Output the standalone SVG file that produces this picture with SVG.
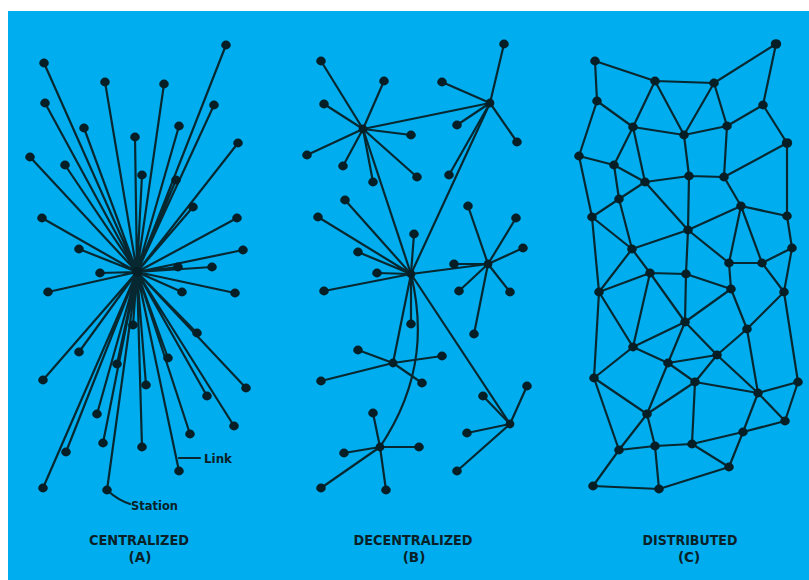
<svg xmlns="http://www.w3.org/2000/svg" width="809" height="580" viewBox="0 0 809 580">
<style>
.bg{fill:#00aeef}
.ln{stroke:#072830;stroke-width:2.2;fill:none;stroke-linecap:round}
.nd{fill:#061f26}
.hub{fill:#061f26}
.lbl{font-family:"DejaVu Sans","Liberation Sans",sans-serif;font-size:13.5px;font-weight:bold;fill:#0a2128;text-anchor:middle}
.sm{font-family:"DejaVu Sans","Liberation Sans",sans-serif;font-size:12.5px;font-weight:bold;fill:#0a2128}
</style>
<rect width="809" height="580" fill="#ffffff"/>
<rect class="bg" x="8" y="11" width="801" height="569"/>
<g id="connectors">
<g id="links-a">
<path class="ln" d="M137,272L44,63M137,272L226,45M137,272L105,82M137,272L164,84M137,272L45,103M137,272L214,105M137,272L84,128M137,272L179,126M137,272L135,137M137,272L238,143M137,272L30,157M137,272L65,165M137,272L142,175M137,272L176,180M137,272L193,207M137,272L42,218M137,272L237,218M137,272L79,249M137,272L243,250M137,272L100,273M137,272L178,267M137,272L212,267M137,272L48,292M137,272L182,292M137,272L235,293M137,272L133,325M137,272L197,333M137,272L79,352M137,272L117,364M137,272L168,358M137,272L43,380M137,272L146,385M137,272L246,388M137,272L207,396M137,272L97,414M137,272L234,426M137,272L190,434M137,272L103,443M137,272L142,447M137,272L66,452M137,272L179,471M137,272L43,488M137,272L107,490"/>
<path class="ln" d="M200,458L179,458M108,491Q118,500 130,504" stroke-width="1.6"/>
</g>
<g id="links-b">
<path class="ln" d="M363,129L321,61M363,129L384,81M363,129L324,104M363,129L307,155M363,129L343,166M363,129L373,182M363,129L411,135M363,129L417,177"/>
<path class="ln" d="M490,103L504,44M490,103L442,82M490,103L457,125M490,103L517,142M490,103L449,175"/>
<path class="ln" d="M411,274L358,252M411,274L318,217M411,274L345,200M411,274L414,234M411,274L377,273M411,274L324,291M411,274L411,324"/>
<path class="ln" d="M488,264L454,264M488,264L459,291M488,264L510,292M488,264L474,334M488,264L468,206M488,264L516,218M488,264L523,248"/>
<path class="ln" d="M393,363L358,350M393,363L442,356M393,363L321,381M393,363L422,383"/>
<path class="ln" d="M380,447L373,413M380,447L419,447M380,447L344,453M380,447L321,488M380,447L386,490"/>
<path class="ln" d="M510,424L483,396M510,424L527,386M510,424L467,433M510,424L457,471"/>
<path class="ln" d="M363,129L490,103M363,129L411,274M490,103L411,274M411,274L488,264M411,274L393,363M411,274L510,424M411,274C422,320 425,380 380,447"/>
</g>
<g id="links-c">
<path class="ln" d="M595,61L655,81M595,61L597,101M655,81L714,83M714,83L776,44M776,44L763,105M597,101L633,127M655,81L633,127M655,81L684,135M714,83L684,135M714,83L727,126M763,105L727,126M763,105L787,143M633,127L684,135M684,135L727,126M633,127L614,165M597,101L579,156M579,156L614,165M684,135L689,176M727,126L724,177M614,165L645,182M633,127L645,182M645,182L689,176M689,176L724,177M724,177L787,143M724,177L741,206M787,143L787,216M579,156L592,217M614,165L619,199M645,182L619,199M619,199L592,217M619,199L632,249M592,217L632,249M645,182L688,230M689,176L688,230M741,206L688,230M741,206L787,216M787,216L792,248M632,249L688,230M741,206L729,263M741,206L762,263M688,230L729,263M762,263L792,248M592,217L599,292M632,249L599,292M632,249L650,273M688,230L686,274"/>
<path class="ln" d="M599,292L650,273M650,273L686,274M686,274L731,289M729,263L731,289M729,263L762,263M762,263L784,292M784,292L792,248M599,292L594,378M599,292L633,347M650,273L633,347M650,273L685,322M686,274L685,322M685,322L731,289M731,289L747,329M784,292L747,329M784,292L798,382M633,347L685,322M633,347L668,363M633,347L594,378M685,322L668,363M685,322L717,355M747,329L717,355M747,329L758,393M668,363L717,355M668,363L695,382M717,355L695,382M717,355L758,393M695,382L758,393M798,382L758,393M798,382L785,421M758,393L785,421M758,393L743,432M594,378L647,414M594,378L619,450M668,363L647,414M695,382L647,414M695,382L692,444M647,414L619,450M647,414L655,446M619,450L655,446M655,446L692,444M692,444L743,432M743,432L785,421M692,444L729,467M743,432L729,467M619,450L593,486M593,486L659,489M655,446L659,489M659,489L729,467"/>
</g>
</g>
<g id="hubs">
<g id="a-hub"><circle class="hub" cx="137" cy="272" r="5"/></g>
<g id="b-hub1"><circle class="hub" cx="363" cy="129" r="4.4"/></g>
<g id="b-hub2"><circle class="hub" cx="490" cy="103" r="4.4"/></g>
<g id="b-hub3"><circle class="hub" cx="411" cy="274" r="4.4"/></g>
<g id="b-hub4"><circle class="hub" cx="488" cy="264" r="4.4"/></g>
<g id="b-hub5"><circle class="hub" cx="393" cy="363" r="4.4"/></g>
<g id="b-hub6"><circle class="hub" cx="380" cy="447" r="4.4"/></g>
<g id="b-hub7"><circle class="hub" cx="510" cy="424" r="4.4"/></g>
</g>
<g id="stations-a">
<g id="a1"><ellipse class="nd" cx="44" cy="63" rx="4.8" ry="4.4"/></g>
<g id="a2"><ellipse class="nd" cx="226" cy="45" rx="4.8" ry="4.4"/></g>
<g id="a3"><ellipse class="nd" cx="105" cy="82" rx="4.8" ry="4.4"/></g>
<g id="a4"><ellipse class="nd" cx="164" cy="84" rx="4.8" ry="4.4"/></g>
<g id="a5"><ellipse class="nd" cx="45" cy="103" rx="4.8" ry="4.4"/></g>
<g id="a6"><ellipse class="nd" cx="214" cy="105" rx="4.8" ry="4.4"/></g>
<g id="a7"><ellipse class="nd" cx="84" cy="128" rx="4.8" ry="4.4"/></g>
<g id="a8"><ellipse class="nd" cx="179" cy="126" rx="4.8" ry="4.4"/></g>
<g id="a9"><ellipse class="nd" cx="135" cy="137" rx="4.8" ry="4.4"/></g>
<g id="a10"><ellipse class="nd" cx="238" cy="143" rx="4.8" ry="4.4"/></g>
<g id="a11"><ellipse class="nd" cx="30" cy="157" rx="4.8" ry="4.4"/></g>
<g id="a12"><ellipse class="nd" cx="65" cy="165" rx="4.8" ry="4.4"/></g>
<g id="a13"><ellipse class="nd" cx="142" cy="175" rx="4.8" ry="4.4"/></g>
<g id="a14"><ellipse class="nd" cx="176" cy="180" rx="4.8" ry="4.4"/></g>
<g id="a15"><ellipse class="nd" cx="193" cy="207" rx="4.8" ry="4.4"/></g>
<g id="a16"><ellipse class="nd" cx="42" cy="218" rx="4.8" ry="4.4"/></g>
<g id="a17"><ellipse class="nd" cx="237" cy="218" rx="4.8" ry="4.4"/></g>
<g id="a18"><ellipse class="nd" cx="79" cy="249" rx="4.8" ry="4.4"/></g>
<g id="a19"><ellipse class="nd" cx="243" cy="250" rx="4.8" ry="4.4"/></g>
<g id="a20"><ellipse class="nd" cx="100" cy="273" rx="4.8" ry="4.4"/></g>
<g id="a21"><ellipse class="nd" cx="178" cy="267" rx="4.8" ry="4.4"/></g>
<g id="a22"><ellipse class="nd" cx="212" cy="267" rx="4.8" ry="4.4"/></g>
<g id="a23"><ellipse class="nd" cx="48" cy="292" rx="4.8" ry="4.4"/></g>
<g id="a24"><ellipse class="nd" cx="182" cy="292" rx="4.8" ry="4.4"/></g>
<g id="a25"><ellipse class="nd" cx="235" cy="293" rx="4.8" ry="4.4"/></g>
<g id="a26"><ellipse class="nd" cx="133" cy="325" rx="4.8" ry="4.4"/></g>
<g id="a27"><ellipse class="nd" cx="197" cy="333" rx="4.8" ry="4.4"/></g>
<g id="a28"><ellipse class="nd" cx="79" cy="352" rx="4.8" ry="4.4"/></g>
<g id="a29"><ellipse class="nd" cx="117" cy="364" rx="4.8" ry="4.4"/></g>
<g id="a30"><ellipse class="nd" cx="168" cy="358" rx="4.8" ry="4.4"/></g>
<g id="a31"><ellipse class="nd" cx="43" cy="380" rx="4.8" ry="4.4"/></g>
<g id="a32"><ellipse class="nd" cx="146" cy="385" rx="4.8" ry="4.4"/></g>
<g id="a33"><ellipse class="nd" cx="246" cy="388" rx="4.8" ry="4.4"/></g>
<g id="a34"><ellipse class="nd" cx="207" cy="396" rx="4.8" ry="4.4"/></g>
<g id="a35"><ellipse class="nd" cx="97" cy="414" rx="4.8" ry="4.4"/></g>
<g id="a36"><ellipse class="nd" cx="234" cy="426" rx="4.8" ry="4.4"/></g>
<g id="a37"><ellipse class="nd" cx="190" cy="434" rx="4.8" ry="4.4"/></g>
<g id="a38"><ellipse class="nd" cx="103" cy="443" rx="4.8" ry="4.4"/></g>
<g id="a39"><ellipse class="nd" cx="142" cy="447" rx="4.8" ry="4.4"/></g>
<g id="a40"><ellipse class="nd" cx="66" cy="452" rx="4.8" ry="4.4"/></g>
<g id="a41"><ellipse class="nd" cx="179" cy="471" rx="4.8" ry="4.4"/></g>
<g id="a42"><ellipse class="nd" cx="43" cy="488" rx="4.8" ry="4.4"/></g>
<g id="a43"><ellipse class="nd" cx="107" cy="490" rx="4.8" ry="4.4"/></g>
</g>
<g id="stations-b">
<g id="b1"><ellipse class="nd" cx="321" cy="61" rx="4.8" ry="4.4"/></g>
<g id="b2"><ellipse class="nd" cx="384" cy="81" rx="4.8" ry="4.4"/></g>
<g id="b3"><ellipse class="nd" cx="324" cy="104" rx="4.8" ry="4.4"/></g>
<g id="b4"><ellipse class="nd" cx="307" cy="155" rx="4.8" ry="4.4"/></g>
<g id="b5"><ellipse class="nd" cx="343" cy="166" rx="4.8" ry="4.4"/></g>
<g id="b6"><ellipse class="nd" cx="373" cy="182" rx="4.8" ry="4.4"/></g>
<g id="b7"><ellipse class="nd" cx="411" cy="135" rx="4.8" ry="4.4"/></g>
<g id="b8"><ellipse class="nd" cx="417" cy="177" rx="4.8" ry="4.4"/></g>
<g id="b9"><ellipse class="nd" cx="504" cy="44" rx="4.8" ry="4.4"/></g>
<g id="b10"><ellipse class="nd" cx="442" cy="82" rx="4.8" ry="4.4"/></g>
<g id="b11"><ellipse class="nd" cx="457" cy="125" rx="4.8" ry="4.4"/></g>
<g id="b12"><ellipse class="nd" cx="517" cy="142" rx="4.8" ry="4.4"/></g>
<g id="b13"><ellipse class="nd" cx="449" cy="175" rx="4.8" ry="4.4"/></g>
<g id="b14"><ellipse class="nd" cx="358" cy="252" rx="4.8" ry="4.4"/></g>
<g id="b15"><ellipse class="nd" cx="318" cy="217" rx="4.8" ry="4.4"/></g>
<g id="b16"><ellipse class="nd" cx="345" cy="200" rx="4.8" ry="4.4"/></g>
<g id="b17"><ellipse class="nd" cx="414" cy="234" rx="4.8" ry="4.4"/></g>
<g id="b18"><ellipse class="nd" cx="377" cy="273" rx="4.8" ry="4.4"/></g>
<g id="b19"><ellipse class="nd" cx="324" cy="291" rx="4.8" ry="4.4"/></g>
<g id="b20"><ellipse class="nd" cx="411" cy="324" rx="4.8" ry="4.4"/></g>
<g id="b21"><ellipse class="nd" cx="454" cy="264" rx="4.8" ry="4.4"/></g>
<g id="b22"><ellipse class="nd" cx="459" cy="291" rx="4.8" ry="4.4"/></g>
<g id="b23"><ellipse class="nd" cx="510" cy="292" rx="4.8" ry="4.4"/></g>
<g id="b24"><ellipse class="nd" cx="474" cy="334" rx="4.8" ry="4.4"/></g>
<g id="b25"><ellipse class="nd" cx="468" cy="206" rx="4.8" ry="4.4"/></g>
<g id="b26"><ellipse class="nd" cx="516" cy="218" rx="4.8" ry="4.4"/></g>
<g id="b27"><ellipse class="nd" cx="523" cy="248" rx="4.8" ry="4.4"/></g>
<g id="b28"><ellipse class="nd" cx="358" cy="350" rx="4.8" ry="4.4"/></g>
<g id="b29"><ellipse class="nd" cx="442" cy="356" rx="4.8" ry="4.4"/></g>
<g id="b30"><ellipse class="nd" cx="321" cy="381" rx="4.8" ry="4.4"/></g>
<g id="b31"><ellipse class="nd" cx="422" cy="383" rx="4.8" ry="4.4"/></g>
<g id="b32"><ellipse class="nd" cx="373" cy="413" rx="4.8" ry="4.4"/></g>
<g id="b33"><ellipse class="nd" cx="419" cy="447" rx="4.8" ry="4.4"/></g>
<g id="b34"><ellipse class="nd" cx="344" cy="453" rx="4.8" ry="4.4"/></g>
<g id="b35"><ellipse class="nd" cx="321" cy="488" rx="4.8" ry="4.4"/></g>
<g id="b36"><ellipse class="nd" cx="386" cy="490" rx="4.8" ry="4.4"/></g>
<g id="b37"><ellipse class="nd" cx="483" cy="396" rx="4.8" ry="4.4"/></g>
<g id="b38"><ellipse class="nd" cx="527" cy="386" rx="4.8" ry="4.4"/></g>
<g id="b39"><ellipse class="nd" cx="467" cy="433" rx="4.8" ry="4.4"/></g>
<g id="b40"><ellipse class="nd" cx="457" cy="471" rx="4.8" ry="4.4"/></g>
</g>
<g id="stations-c">
<g id="c1"><ellipse class="nd" cx="595" cy="61" rx="4.8" ry="4.4"/></g>
<g id="c2"><ellipse class="nd" cx="655" cy="81" rx="4.8" ry="4.4"/></g>
<g id="c3"><ellipse class="nd" cx="714" cy="83" rx="4.8" ry="4.4"/></g>
<g id="c4"><ellipse class="nd" cx="776" cy="44" rx="5.2" ry="4.8"/></g>
<g id="c5"><ellipse class="nd" cx="597" cy="101" rx="4.8" ry="4.4"/></g>
<g id="c6"><ellipse class="nd" cx="763" cy="105" rx="4.8" ry="4.4"/></g>
<g id="c7"><ellipse class="nd" cx="633" cy="127" rx="4.8" ry="4.4"/></g>
<g id="c8"><ellipse class="nd" cx="684" cy="135" rx="4.8" ry="4.4"/></g>
<g id="c9"><ellipse class="nd" cx="727" cy="126" rx="4.8" ry="4.4"/></g>
<g id="c10"><ellipse class="nd" cx="787" cy="143" rx="5.2" ry="4.8"/></g>
<g id="c11"><ellipse class="nd" cx="579" cy="156" rx="4.8" ry="4.4"/></g>
<g id="c12"><ellipse class="nd" cx="614" cy="165" rx="4.8" ry="4.4"/></g>
<g id="c13"><ellipse class="nd" cx="689" cy="176" rx="4.8" ry="4.4"/></g>
<g id="c14"><ellipse class="nd" cx="645" cy="182" rx="4.8" ry="4.4"/></g>
<g id="c15"><ellipse class="nd" cx="724" cy="177" rx="4.8" ry="4.4"/></g>
<g id="c16"><ellipse class="nd" cx="619" cy="199" rx="4.8" ry="4.4"/></g>
<g id="c17"><ellipse class="nd" cx="741" cy="206" rx="4.8" ry="4.4"/></g>
<g id="c18"><ellipse class="nd" cx="592" cy="217" rx="4.8" ry="4.4"/></g>
<g id="c19"><ellipse class="nd" cx="787" cy="216" rx="4.8" ry="4.4"/></g>
<g id="c20"><ellipse class="nd" cx="688" cy="230" rx="4.8" ry="4.4"/></g>
<g id="c21"><ellipse class="nd" cx="632" cy="249" rx="4.8" ry="4.4"/></g>
<g id="c22"><ellipse class="nd" cx="792" cy="248" rx="4.8" ry="4.4"/></g>
<g id="c23"><ellipse class="nd" cx="650" cy="273" rx="4.8" ry="4.4"/></g>
<g id="c24"><ellipse class="nd" cx="686" cy="274" rx="4.8" ry="4.4"/></g>
<g id="c25"><ellipse class="nd" cx="729" cy="263" rx="4.8" ry="4.4"/></g>
<g id="c26"><ellipse class="nd" cx="762" cy="263" rx="4.8" ry="4.4"/></g>
<g id="c27"><ellipse class="nd" cx="599" cy="292" rx="4.8" ry="4.4"/></g>
<g id="c28"><ellipse class="nd" cx="731" cy="289" rx="4.8" ry="4.4"/></g>
<g id="c29"><ellipse class="nd" cx="784" cy="292" rx="4.8" ry="4.4"/></g>
<g id="c30"><ellipse class="nd" cx="685" cy="322" rx="4.8" ry="4.4"/></g>
<g id="c31"><ellipse class="nd" cx="747" cy="329" rx="4.8" ry="4.4"/></g>
<g id="c32"><ellipse class="nd" cx="633" cy="347" rx="4.8" ry="4.4"/></g>
<g id="c33"><ellipse class="nd" cx="717" cy="355" rx="4.8" ry="4.4"/></g>
<g id="c34"><ellipse class="nd" cx="668" cy="363" rx="4.8" ry="4.4"/></g>
<g id="c35"><ellipse class="nd" cx="594" cy="378" rx="4.8" ry="4.4"/></g>
<g id="c36"><ellipse class="nd" cx="695" cy="382" rx="4.8" ry="4.4"/></g>
<g id="c37"><ellipse class="nd" cx="798" cy="382" rx="4.8" ry="4.4"/></g>
<g id="c38"><ellipse class="nd" cx="758" cy="393" rx="4.8" ry="4.4"/></g>
<g id="c39"><ellipse class="nd" cx="647" cy="414" rx="4.8" ry="4.4"/></g>
<g id="c40"><ellipse class="nd" cx="785" cy="421" rx="4.8" ry="4.4"/></g>
<g id="c41"><ellipse class="nd" cx="743" cy="432" rx="4.8" ry="4.4"/></g>
<g id="c42"><ellipse class="nd" cx="619" cy="450" rx="4.8" ry="4.4"/></g>
<g id="c43"><ellipse class="nd" cx="655" cy="446" rx="4.8" ry="4.4"/></g>
<g id="c44"><ellipse class="nd" cx="692" cy="444" rx="4.8" ry="4.4"/></g>
<g id="c45"><ellipse class="nd" cx="729" cy="467" rx="4.8" ry="4.4"/></g>
<g id="c46"><ellipse class="nd" cx="593" cy="486" rx="4.8" ry="4.4"/></g>
<g id="c47"><ellipse class="nd" cx="659" cy="489" rx="4.8" ry="4.4"/></g>
</g>
<g id="labels">
<text class="sm" x="204" y="463" textLength="28" lengthAdjust="spacingAndGlyphs">Link</text>
<text class="sm" x="131" y="510" textLength="47" lengthAdjust="spacingAndGlyphs">Station</text>
<text class="lbl" x="139" y="545" textLength="100" lengthAdjust="spacingAndGlyphs">CENTRALIZED</text>
<text class="lbl" x="140" y="562">(A)</text>
<text class="lbl" x="413" y="545" textLength="119" lengthAdjust="spacingAndGlyphs">DECENTRALIZED</text>
<text class="lbl" x="414" y="562">(B)</text>
<text class="lbl" x="690" y="545" textLength="95" lengthAdjust="spacingAndGlyphs">DISTRIBUTED</text>
<text class="lbl" x="689" y="562">(C)</text>
</g>
</svg>
